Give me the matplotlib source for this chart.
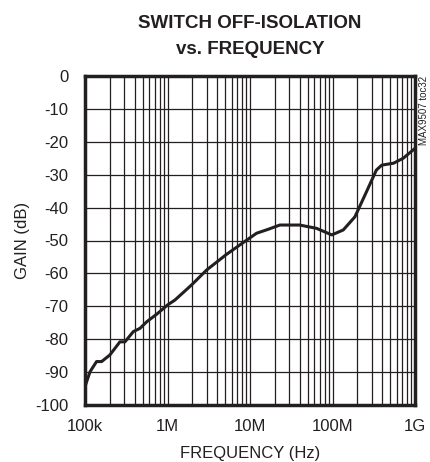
import matplotlib
matplotlib.use("Agg")
from matplotlib import pyplot as plt
from matplotlib.ticker import LogLocator, NullFormatter
import numpy as np

# curve
freq_hz = [1.0e5, 1.15e5, 1.38e5, 1.59e5, 2.0e5, 2.65e5, 3.05e5, 3.85e5, 4.64e5,
           5.6e5, 7.4e5, 1.0e6, 1.23e6, 1.96e6, 2.97e6, 5.2e6, 9.1e6, 1.2e7,
           1.66e7, 2.3e7, 4.0e7, 6.4e7, 9.8e7, 1.35e8, 1.87e8, 2.58e8, 3.4e8,
           3.95e8, 5.5e8, 7.2e8, 1.0e9]
gain_db = [-94.4, -89.9, -86.8, -86.8, -84.8, -80.8, -80.8, -77.7, -76.7,
           -74.7, -72.4, -69.6, -68.1, -63.5, -59.0, -54.2, -49.9, -47.8,
           -46.6, -45.3, -45.3, -46.3, -48.3, -46.8, -42.8, -35.2, -28.6,
           -27.1, -26.5, -25.0, -22.0]

x_ticks = [1e5, 1e6, 1e7, 1e8, 1e9]
x_labels = ["100k", "1M", "10M", "100M", "1G"]
y_ticks = list(range(-100, 1, 10))

plt.rcParams['font.family'] = ['Liberation Sans', 'DejaVu Sans']
ink = "#231f20"

fig = plt.figure(figsize=(4.3, 4.62), dpi=100)
ax = fig.add_axes([85 / 430, 57 / 462, 330 / 430, 329 / 462])

ax.plot(freq_hz, gain_db, color=ink, linewidth=2.2, zorder=3)

ax.set_xscale("log")
ax.set_xlim(1e5, 1e9)
ax.set_ylim(-100, 0)
ax.set_xticks(x_ticks)
ax.set_xticklabels(x_labels)
ax.xaxis.set_minor_locator(LogLocator(base=10, subs=np.arange(2, 10)))
ax.xaxis.set_minor_formatter(NullFormatter())
ax.set_yticks(y_ticks)
ax.set_yticklabels([str(v) for v in y_ticks])

ax.grid(which="both", axis="x", color=ink, linewidth=0.9)
ax.grid(which="major", axis="y", color=ink, linewidth=0.9)
ax.tick_params(which="both", length=0, labelsize=12, colors=ink)
ax.tick_params(axis="y", pad=12)
ax.tick_params(axis="x", pad=10)

for s in ax.spines.values():
    s.set_linewidth(2.5)
    s.set_color(ink)

ax.set_xlabel("FREQUENCY (Hz)", fontsize=12, color=ink, labelpad=9)
ax.set_ylabel("GAIN (dB)", fontsize=12, color=ink, labelpad=4)

fig.text(250 / 430, 1 - 24 / 462, "SWITCH OFF-ISOLATION", fontsize=13.5,
         fontweight="bold", ha="center", va="center", color=ink)
fig.text(250 / 430, 1 - 49 / 462, "vs. FREQUENCY", fontsize=13.5,
         fontweight="bold", ha="center", va="center", color=ink)

fig.text(424 / 430, 1 - 110 / 462, "MAX9507 toc32", rotation=90, fontsize=7,
         ha="center", va="center", color=ink)

fig.savefig("out.png", dpi=100)
